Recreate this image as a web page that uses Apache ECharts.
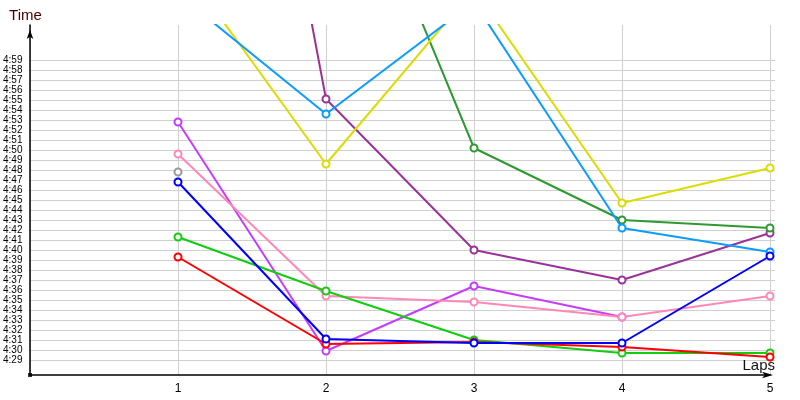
<!DOCTYPE html>
<html>
<head>
<meta charset="utf-8">
<script src="https://cdn.jsdelivr.net/npm/echarts@6/dist/echarts.min.js"></script>
<style>html,body{margin:0;padding:0;background:#fff}#c{width:800px;height:400px}</style>
</head>
<body>
<div id="c"></div>
<script>
// Laps (x categories, numeric)
const laps = [1, 2, 3, 4, 5];
// Y tick labels (m:ss) shown on the chart
const timeTicks = ['4:29','4:30','4:31','4:32','4:33','4:34','4:35','4:36','4:37','4:38','4:39','4:40',
  '4:41','4:42','4:43','4:44','4:45','4:46','4:47','4:48','4:49','4:50','4:51','4:52','4:53','4:54',
  '4:55','4:56','4:57','4:58','4:59'];
// Lap times in seconds, per runner
const red       = [279.3, 270.6, 270.8, 270.3, 269.3];
const green     = [281.3, 275.9, 271.0, 269.7, 269.7];
const blue      = [286.8, 271.1, 270.7, 270.7, 279.4];
const violet    = [292.8, 269.9, 276.4, 273.3, null];
const pink      = [289.6, 275.4, 274.8, 273.3, 275.4];
const gray      = [287.8, null, null, null, null];
const lightBlue = [305.6, 293.6, 304.8, 282.2, 279.8];
const yellow    = [309.1, 288.6, 306.1, 284.7, 288.2];
const darkGreen = [null, 325.9, 290.2, 283.0, 282.2];
const purple    = [373.6, 295.1, 280.0, 277.0, 281.7];

function toSec(s){ const p = s.split(':'); return (+p[0])*60 + (+p[1]); }
const tickMin = toSec(timeTicks[0]);
const tickMax = toSec(timeTicks[timeTicks.length-1]);
const yMin = tickMin - 1.5, yMax = tickMax + 3.5;
const xMin = 0, xMax = laps[laps.length-1];
function fmt(v){ const m = Math.floor(v/60), s = Math.round(v - m*60); return m + ':' + (s<10?'0':'') + s; }

const seriesDefs = [
  ['purple', purple, '#993399'],
  ['darkGreen', darkGreen, '#2e9a2e'],
  ['yellow', yellow, '#dcdc00'],
  ['lightBlue', lightBlue, '#0a9cff'],
  ['gray', gray, '#9a9a9a'],
  ['violet', violet, '#c63cff'],
  ['pink', pink, '#ff88b8'],
  ['green', green, '#11cc11'],
  ['red', red, '#ff0000'],
  ['blue', blue, '#0000ff']
];

const FONT = 'Liberation Sans';
const series = seriesDefs.map(([name, vals, color]) => ({
  name, type: 'line', xAxisIndex: 0, yAxisIndex: 0,
  data: laps.map((l, i) => [l, vals[i]]),
  symbol: 'emptyCircle', symbolSize: 7, showAllSymbol: true,
  lineStyle: { color, width: 2 },
  itemStyle: { color, borderColor: color, borderWidth: 1.2 },
  clip: true, connectNulls: false, silent: true
}));
series.push({
  type: 'scatter', xAxisIndex: 0, yAxisIndex: 0, clip: false,
  data: [[xMin, yMin]], symbol: 'rect', symbolSize: 4,
  itemStyle: { color: '#000' }, silent: true, z: 10
});

const chart = echarts.init(document.getElementById('c'), null, { renderer: 'canvas' });
chart.setOption({
  animation: false,
  backgroundColor: '#fff',
  grid: [
    { left: 30, right: 30, top: 25, bottom: 25 },
    { left: 30, right: 25, top: 60, bottom: 40 }
  ],
  xAxis: [
    {
      type: 'value', gridIndex: 0, min: xMin, max: xMax, interval: 1,
      name: 'Laps', nameLocation: 'end', nameGap: 5,
      nameTextStyle: { fontFamily: FONT, fontSize: 15, color: '#111', align: 'right', verticalAlign: 'bottom', padding: [0,0,2,0] },
      axisLine: { show: true, lineStyle: { color: '#000', width: 1.5 }, symbol: ['none', 'arrow'], symbolSize: [5, 11], symbolOffset: [0, 3] },
      axisTick: { show: false },
      axisLabel: { fontFamily: FONT, fontSize: 12, color: '#000', margin: 8,
        formatter: v => (laps.indexOf(v) >= 0 ? String(v) : '') },
      splitLine: { show: true, lineStyle: { color: '#cfcfcf', width: 1 } }
    },
    {
      type: 'value', gridIndex: 1, min: xMin, max: xMax, show: false,
      splitLine: { show: false }
    }
  ],
  yAxis: [
    {
      type: 'value', gridIndex: 0, min: yMin, max: yMax,
      name: 'Time', nameLocation: 'end', nameGap: 9,
      nameTextStyle: { fontFamily: FONT, fontSize: 15, color: '#4a0000', align: 'center', verticalAlign: 'middle', padding: [0, 9, 0, 0] },
      axisLine: { show: true, lineStyle: { color: '#000', width: 1.5 }, symbol: ['none', 'arrow'], symbolSize: [5, 9], symbolOffset: [0, -5] },
      axisTick: { show: false }, axisLabel: { show: false }, splitLine: { show: false }
    },
    {
      type: 'value', gridIndex: 1, min: tickMin, max: tickMax, interval: 1,
      axisLine: { show: false }, axisTick: { show: false },
      axisLabel: { fontFamily: FONT, fontSize: 10, color: '#000', margin: 8, padding: [0, 0, 8, 0],
        formatter: v => fmt(v) },
      splitLine: { show: true, lineStyle: { color: '#d0d0d0', width: 1 } }
    }
  ],
  series
});
</script>
</body>
</html>
